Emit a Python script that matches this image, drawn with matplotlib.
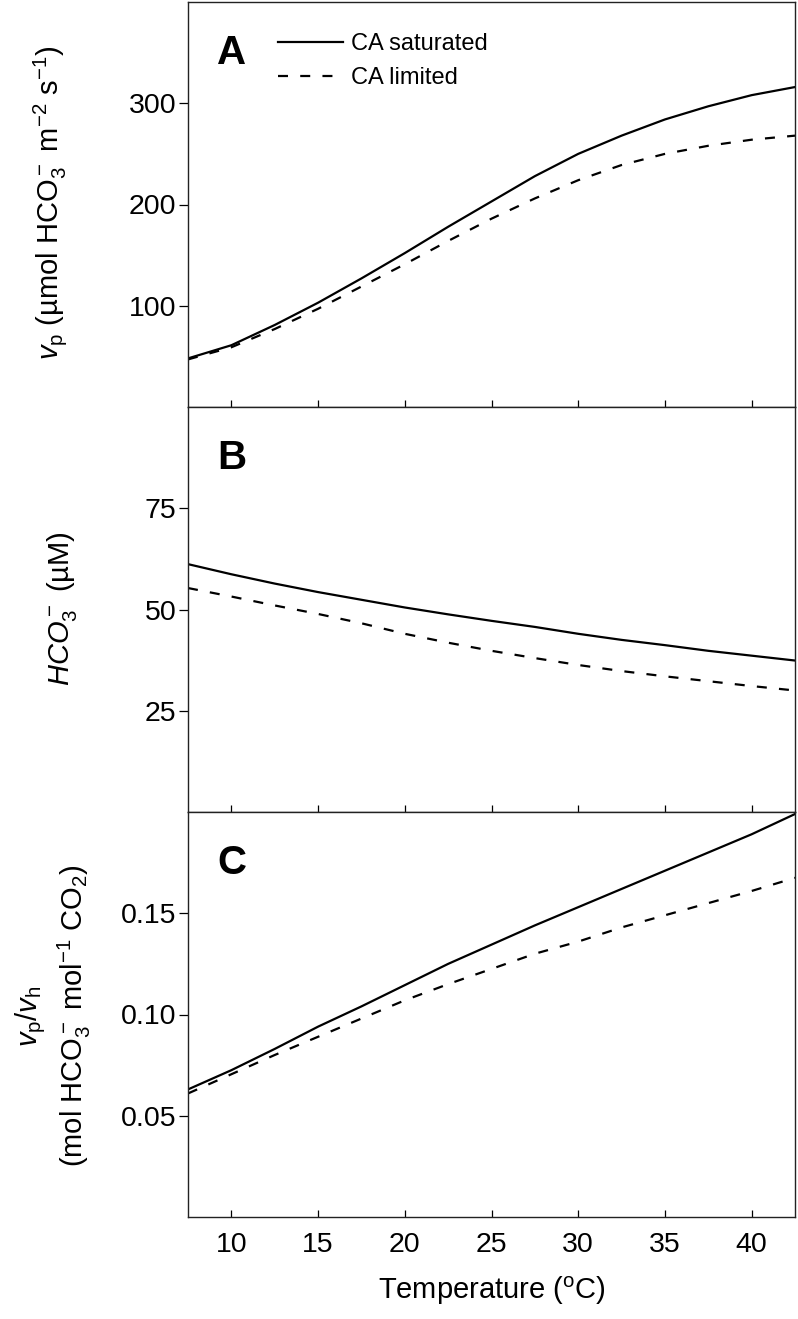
import numpy as np
import matplotlib
matplotlib.use("Agg")
import matplotlib.pyplot as plt

plt.rcParams['font.family'] = ['Liberation Sans', 'DejaVu Sans']
plt.rcParams['mathtext.fontset'] = 'custom'
plt.rcParams['mathtext.rm'] = 'Liberation Sans'
plt.rcParams['mathtext.it'] = 'Liberation Sans:italic'
plt.rcParams['mathtext.bf'] = 'Liberation Sans:bold'

# temperature (°C)
temp = [7.5, 10, 12.5, 15, 17.5, 20, 22.5, 25, 27.5, 30, 32.5, 35, 37.5, 40, 42.5]

# panel A: vp (umol HCO3- m-2 s-1)
vp_sat = [48, 61, 81, 103, 127, 152, 178, 203, 228, 250, 268, 284, 297, 308, 316]
vp_lim = [47, 59, 77, 97, 119, 141, 164, 186, 206, 224, 239, 250, 258, 264, 268]

# panel B: HCO3- (uM)
hco3_sat = [61.2, 58.7, 56.4, 54.3, 52.4, 50.5, 48.8, 47.2, 45.7, 44.0, 42.5, 41.2, 39.8, 38.6, 37.4]
hco3_lim = [55.3, 53.2, 51.0, 48.9, 46.6, 44.0, 41.8, 39.8, 38.0, 36.3, 34.8, 33.5, 32.3, 31.1, 30.0]

# panel C: vp/vh
ratio_sat = [0.063, 0.0725, 0.083, 0.094, 0.104, 0.1145, 0.125, 0.1345, 0.144, 0.153, 0.162, 0.171, 0.180, 0.189, 0.199]
ratio_lim = [0.061, 0.0705, 0.080, 0.089, 0.098, 0.107, 0.115, 0.1225, 0.130, 0.136, 0.143, 0.149, 0.155, 0.161, 0.1675]

x_ticks = [10, 15, 20, 25, 30, 35, 40]
panels = [
    ('A', vp_sat, vp_lim, (0, 400), [100, 200, 300], ['100', '200', '300']),
    ('B', hco3_sat, hco3_lim, (0, 100), [25, 50, 75], ['25', '50', '75']),
    ('C', ratio_sat, ratio_lim, (0, 0.2), [0.05, 0.10, 0.15], ['0.05', '0.10', '0.15']),
]

W, H = 798, 1319
fig = plt.figure(figsize=(W / 100, H / 100), dpi=100)

left, right = 188, 795
tops = [2, 407, 812]
ph = 405
dash = (0, (4.5, 5.5))

axes = []
for i, (letter, sat, lim, ylim, yt, ytl) in enumerate(panels):
    ax = fig.add_axes([left / W, (H - tops[i] - ph) / H, (right - left) / W, ph / H])
    ax.plot(temp, sat, color='black', lw=1.6, ls='-', label='CA saturated')
    ax.plot(temp, lim, color='black', lw=1.6, ls=dash, label='CA limited')
    ax.set_xlim(7.5, 42.5)
    ax.set_ylim(*ylim)
    ax.set_xticks(x_ticks)
    ax.set_yticks(yt)
    ax.set_yticklabels(ytl)
    ax.tick_params(axis='x', direction='in', length=5, width=0.9, labelsize=20.5, pad=11)
    ax.tick_params(axis='y', direction='out', length=6.5, width=0.9, labelsize=20.5, pad=2)
    if i < 2:
        ax.tick_params(axis='x', labelbottom=False)
    for sp in ax.spines.values():
        sp.set_linewidth(1.0)
        sp.set_color('#222222')
    ax.text(0.072, 0.875, letter, transform=ax.transAxes, fontsize=29,
            fontweight='bold', ha='center', va='center')
    axes.append(ax)

axes[0].legend(loc='upper left', bbox_to_anchor=(0.125, 0.958), frameon=False,
               fontsize=17, handlelength=2.75, handletextpad=0.35,
               labelspacing=0.5, borderaxespad=0.2)

fig.text(50 / W, 1 - 203 / H,
         r'$\mathit{v}_{\mathrm{p}}$ (µmol HCO$_3^-$ m$^{-2}$ s$^{-1}$)',
         rotation=90, ha='center', va='center', fontsize=21)
fig.text(62 / W, 1 - 609 / H, r'$\mathit{HCO}_3^-$ (µM)',
         rotation=90, ha='center', va='center', fontsize=21)
fig.text(53 / W, 1 - 1016 / H,
         '$\\mathit{v}_{\\mathrm{p}}/\\mathit{v}_{\\mathrm{h}}$\n'
         '(mol HCO$_3^-$ mol$^{-1}$ CO$_2$)',
         rotation=90, ha='center', va='center', fontsize=21,
         multialignment='center', linespacing=1.3)

axes[2].set_xlabel(r'Temperature ($^{\mathrm{o}}$C)', fontsize=21, labelpad=12)

fig.savefig('out.png', dpi=100)
